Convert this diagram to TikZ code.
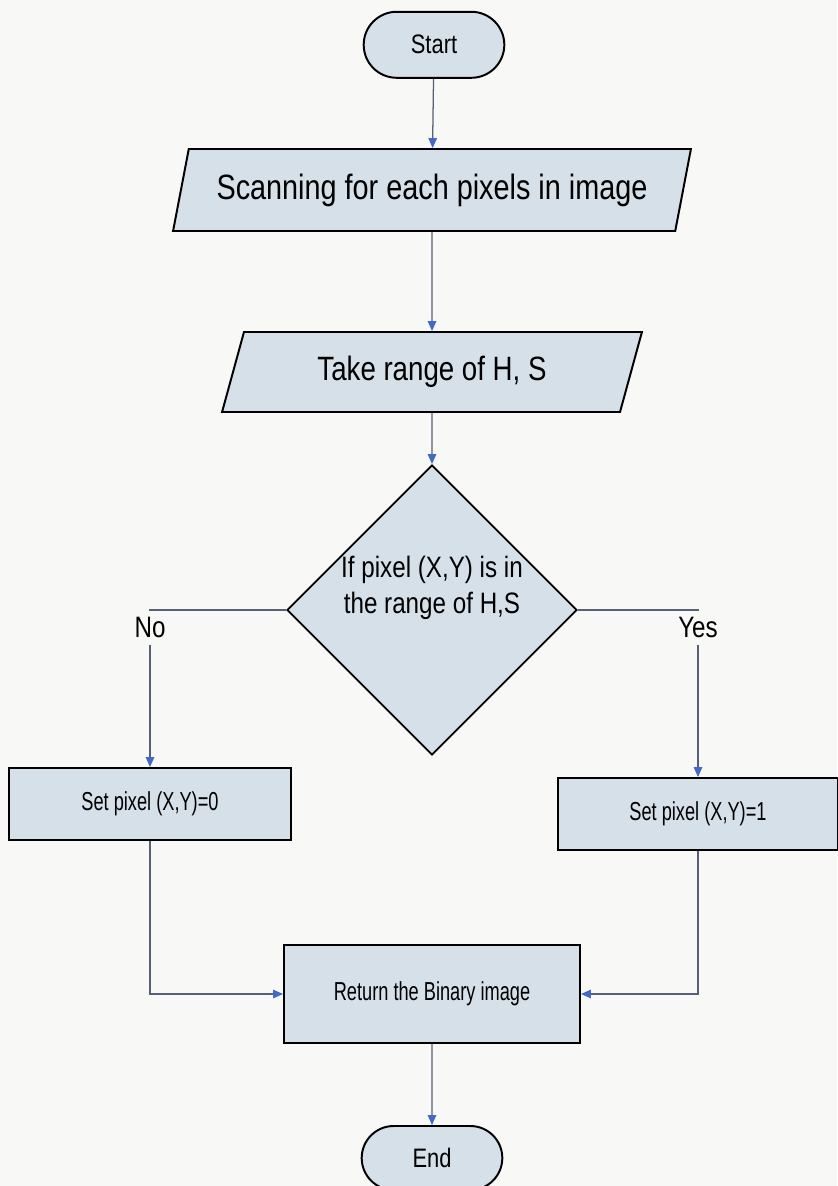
\documentclass[tikz,border=0pt]{standalone}
\usepackage{fontspec}
\setmainfont{Liberation Sans}[FakeStretch=0.82]
\newfontfamily\narrowsans{Liberation Sans}[FakeStretch=0.7]
\usetikzlibrary{shapes.geometric,shapes.misc,arrows.meta}

\definecolor{boxfill}{RGB}{214,224,232}
\definecolor{linegray}{RGB}{88,96,118}
\definecolor{tipblue}{RGB}{66,104,200}
\definecolor{paper}{RGB}{248,248,246}

\begin{document}
\begin{tikzpicture}[
    terminal/.style={rounded rectangle, draw, line width=1.4pt, fill=boxfill,
      minimum width=3.75cm, minimum height=1.65cm, font=\fontsize{19}{22}\selectfont},
    iobox/.style={trapezium, trapezium left angle=67, trapezium right angle=113,
      trapezium stretches=true, draw, line width=1.4pt, fill=boxfill, inner sep=0pt},
    decision/.style={diamond, draw, line width=1.3pt, fill=boxfill, inner sep=0pt,
      minimum width=6.85cm, minimum height=5.95cm, align=center,
      font=\fontsize{21}{26}\selectfont},
    process/.style={rectangle, draw, line width=1.4pt, fill=boxfill,
      font=\narrowsans\fontsize{18.5}{22}\selectfont},
    branch/.style={font=\fontsize{21}{24}\selectfont, fill=paper, inner sep=5pt},
    flow/.style={draw=linegray, line width=0.9pt, -{Triangle[color=tipblue, length=7pt, width=6pt]}}
  ]
      % \draw[help lines](0,-30) grid (21,0);
      \fill[paper] (0,0) rectangle (20.925,-29.65);
      \useasboundingbox (0,0) rectangle (20.925,-29.65);

      \draw (10.85,-1.12) node[terminal] (start) {Start};
      \draw (10.8,-4.75) node[iobox, minimum width=13cm, minimum height=2.05cm,
        font=\fontsize{25}{30}\selectfont] (scan) {Scanning for each pixels in image};
      \draw (10.8,-9.3) node[iobox, minimum width=10.5cm, minimum height=2cm,
        font=\fontsize{24}{28}\selectfont] (range) {Take range of H, S};
      \draw (10.8,-15.25) node[decision] (test) {If pixel (X,Y) is in\\the range of H,S\\[0.35cm]};
      \draw (3.75,-20.1) node[process, minimum width=7.05cm, minimum height=1.8cm] (black) {Set pixel (X,Y)=0};
      \draw (17.45,-20.35) node[process, minimum width=7cm, minimum height=1.8cm] (white) {Set pixel (X,Y)=1};
      \draw (10.8,-24.85) node[process, minimum width=7.4cm, minimum height=2.45cm] (binary) {Return the Binary image};
      \draw (10.8,-28.95) node[terminal, minimum height=1.6cm] (end) {End};

      \draw[flow] (start) -- (scan);
      \draw[flow] (scan) -- (range);
      \draw[flow] (range) -- (test);
      \draw[flow] (test.west) -| (black.north) node[pos=0.5, below, branch] {No};
      \draw[flow] (test.east) -| (white.north) node[pos=0.5, below, branch] {Yes};
      \draw[flow] (black.south) |- (binary.west);
      \draw[flow] (white.south) |- (binary.east);
      \draw[flow] (binary) -- (end);
    \end{tikzpicture}
\end{document}
